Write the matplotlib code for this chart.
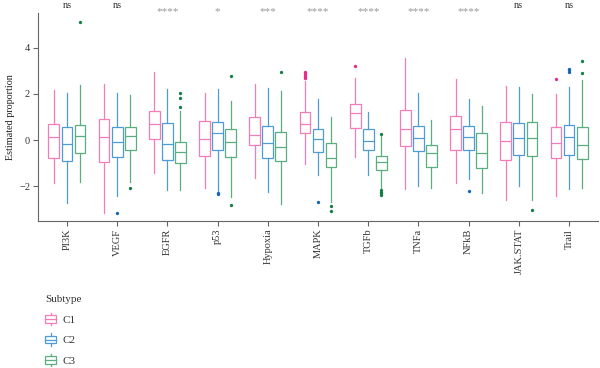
import matplotlib
matplotlib.use("Agg")
import matplotlib.pyplot as plt
from matplotlib.legend_handler import HandlerBase
from matplotlib.patches import Rectangle
from matplotlib.lines import Line2D
import matplotlib.transforms as mtransforms

plt.rcParams['font.family'] = ['Liberation Serif', 'DejaVu Serif']

categories = ["PI3K", "VEGF", "EGFR", "p53", "Hypoxia", "MAPK", "TGFb", "TNFa", "NFkB", "JAK.STAT", "Trail"]
signif = ["ns", "ns", "****", "*", "***", "****", "****", "****", "****", "ns", "ns"]
subtypes = ["C1", "C2", "C3"]

# C1 box statistics
c1_lo  = [-1.88, -3.16, -1.45, -2.07, -1.64, -1.06, -0.72, -2.14, -1.88, -2.58, -2.42]
c1_q1  = [-0.80, -0.94, 0.03, -0.70, -0.22, 0.29, 0.54, -0.26, -0.41, -0.87, -0.80]
c1_med = [0.14, 0.12, 0.68, 0.03, 0.22, 0.68, 1.19, 0.48, 0.48, -0.04, -0.14]
c1_q3  = [0.70, 0.90, 1.26, 0.84, 0.99, 1.23, 1.55, 1.30, 1.06, 0.80, 0.55]
c1_hi  = [2.17, 2.42, 2.97, 2.03, 2.42, 2.55, 2.68, 3.55, 2.64, 2.35, 1.99]
c1_out = [[], [], [], [], [], [2.68, 2.75, 2.82, 2.90, 2.97], [3.23], [], [], [], [2.67]]

# C2 box statistics
c2_lo  = [-2.75, -2.42, -2.17, -2.22, -2.25, -1.52, -1.52, -1.99, -1.70, -1.99, -2.14]
c2_q1  = [-0.90, -0.72, -0.87, -0.43, -0.77, -0.51, -0.43, -0.46, -0.43, -0.65, -0.65]
c2_med = [-0.19, -0.10, -0.17, 0.29, -0.12, 0.03, -0.03, 0.07, 0.14, 0.09, 0.12]
c2_q3  = [0.58, 0.58, 0.72, 0.78, 0.62, 0.46, 0.46, 0.62, 0.61, 0.72, 0.65]
c2_hi  = [2.03, 2.03, 2.22, 2.20, 2.25, 1.78, 1.20, 2.03, 1.77, 2.29, 2.29]
c2_out = [[], [-3.16], [], [-2.30, -2.34], [], [-2.68], [], [], [-2.20], [], [2.97, 3.03, 3.09]]

# C3 box statistics
c3_lo  = [-1.84, -1.84, -2.17, -2.46, -2.78, -2.70, -2.08, -2.10, -2.29, -2.61, -2.10]
c3_q1  = [-0.58, -0.43, -1.01, -0.72, -0.91, -1.19, -1.30, -1.16, -1.23, -0.70, -0.84]
c3_med = [0.17, 0.17, -0.51, -0.07, -0.29, -0.77, -0.97, -0.54, -0.54, 0.09, -0.23]
c3_q3  = [0.65, 0.58, -0.07, 0.46, 0.36, -0.12, -0.68, -0.23, 0.32, 0.77, 0.57]
c3_hi  = [2.39, 1.96, 1.26, 1.70, 2.13, 0.99, 0.20, 0.87, 1.48, 2.00, 2.61]
c3_out = [[5.12], [-2.06], [2.03, 1.81, 1.42], [2.78, -2.83], [2.94], [-2.87, -3.07],
          [0.26, -2.17, -2.24, -2.31, -2.38], [], [], [-3.04], [2.93, 3.43]]

edge_colors = ["#F27DB8", "#4E9BD6", "#5AAE80"]
flier_colors = ["#E7298A", "#1565B5", "#137F45"]

stats_by_sub = [
    (c1_lo, c1_q1, c1_med, c1_q3, c1_hi, c1_out),
    (c2_lo, c2_q1, c2_med, c2_q3, c2_hi, c2_out),
    (c3_lo, c3_q1, c3_med, c3_q3, c3_hi, c3_out),
]

fig = plt.figure(figsize=(6.0, 3.68), dpi=100)
ax = fig.add_axes([0.063, 0.399, 0.934, 0.566])

offsets = [-0.26, 0.0, 0.26]
width = 0.215
lw = 0.9
for s, (lo, q1, med, q3, hi, out) in enumerate(stats_by_sub):
    stats = []
    for i in range(len(categories)):
        stats.append(dict(med=med[i], q1=q1[i], q3=q3[i], whislo=lo[i], whishi=hi[i],
                          fliers=out[i], label=categories[i]))
    pos = [i + offsets[s] for i in range(len(categories))]
    ax.bxp(stats, positions=pos, widths=width, showcaps=False, patch_artist=True,
           boxprops=dict(facecolor="white", edgecolor=edge_colors[s], linewidth=lw),
           medianprops=dict(color=edge_colors[s], linewidth=lw),
           whiskerprops=dict(color=edge_colors[s], linewidth=lw),
           flierprops=dict(marker="o", markersize=2.4, markerfacecolor=flier_colors[s],
                           markeredgewidth=0, linestyle="none"),
           manage_ticks=False)

ax.set_xlim(-0.58, len(categories) - 1 + 0.58)
ax.set_ylim(-3.52, 5.52)
ax.set_xticks(range(len(categories)))
ax.set_xticklabels(categories, rotation=90, fontsize=7.5, color="#333333")
ax.set_yticks([-2, 0, 2, 4])
ax.set_yticklabels(["\u22122", "0", "2", "4"], fontsize=7.5, color="#333333")
ax.set_ylabel("Estimated proportion", fontsize=7.3, color="#222222", labelpad=3)
for side in ["top", "right"]:
    ax.spines[side].set_visible(False)
for side in ["left", "bottom"]:
    ax.spines[side].set_color("#666666")
    ax.spines[side].set_linewidth(0.8)
ax.tick_params(axis="both", colors="#666666", length=3.5, width=0.8, labelcolor="#333333", pad=2)

trans = mtransforms.blended_transform_factory(ax.transData, ax.transAxes)
for i, lab in enumerate(signif):
    if lab == "ns":
        ax.text(i, 1.034, lab, transform=trans, ha="center", va="center", fontsize=7.5,
                color="#333333", clip_on=False)
    else:
        ax.text(i, 1.005, lab, transform=trans, ha="center", va="center", fontsize=8,
                color="#999999", clip_on=False)


class BoxHandler(HandlerBase):
    def __init__(self, color):
        super().__init__()
        self.color = color

    def create_artists(self, legend, orig_handle, xdescent, ydescent, width, height, fontsize, trans):
        c = self.color
        bw = width * 0.9
        x0 = -xdescent + (width - bw) / 2
        y0 = -ydescent
        rect = Rectangle((x0, y0 + height * 0.15), bw, height * 0.7, facecolor="white",
                         edgecolor=c, linewidth=lw, transform=trans)
        xm = x0 + bw / 2
        med = Line2D([x0, x0 + bw], [y0 + height / 2] * 2, color=c, linewidth=lw, transform=trans)
        w1 = Line2D([xm, xm], [y0 - height * 0.1, y0 + height * 0.15], color=c, linewidth=lw, transform=trans)
        w2 = Line2D([xm, xm], [y0 + height * 0.85, y0 + height * 1.1], color=c, linewidth=lw, transform=trans)
        return [rect, med, w1, w2]


handles = [Rectangle((0, 0), 1, 1) for _ in subtypes]
leg = fig.legend(handles, subtypes, loc="upper left", bbox_to_anchor=(0.058, 0.225),
                 frameon=False, title="Subtype", fontsize=8, title_fontsize=8,
                 handlelength=1.1, handleheight=1.1, handletextpad=0.5, labelspacing=0.85,
                 handler_map={h: BoxHandler(edge_colors[k]) for k, h in enumerate(handles)})
leg._legend_box.align = "left"
for t in leg.get_texts():
    t.set_color("#333333")
leg.get_title().set_color("#333333")

fig.savefig("out.png", dpi=100)
